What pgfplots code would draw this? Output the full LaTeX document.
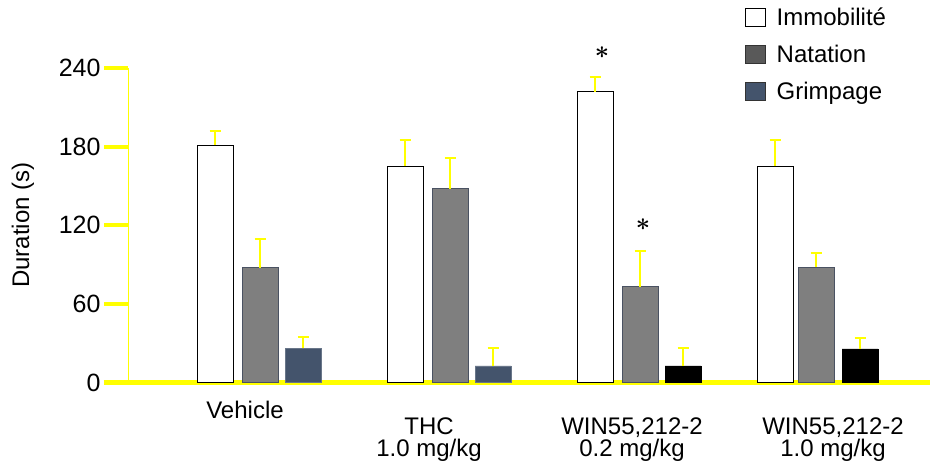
\documentclass[border=0pt]{standalone}
\usepackage{pgfplots}
\pgfplotsset{compat=1.18}
\usepackage{fontspec}
\setmainfont{Liberation Sans}
\definecolor{ylw}{HTML}{FFFF00}
\definecolor{natgray}{HTML}{7F7F7F}
\definecolor{natedge}{HTML}{4A5262}
\definecolor{slate}{HTML}{44546C}

\pgfplotstableread{
x y e
215 181.2 10.7
405 165.2 19.9
595 221.7 11.4
775 165.2 19.9
}\immo
\pgfplotstableread{
x y e
260 87.4 22.1
450 147.7 23.6
640 72.9 27.5
816 88.1 10.7
}\nat
\pgfplotstableread{
x y e
303 26.3 8.4
493 12.6 13.7
}\grimA
\pgfplotstableread{
x y e
683 12.6 13.7
860 25.6 8.4
}\grimB

\begin{document}
\begin{tikzpicture}[x=1pt,y=1pt]
\path[use as bounding box] (0,0) rectangle (934,462);
\begin{axis}[
  at={(128pt,79.5pt)}, anchor=south west,
  scale only axis, width=802pt, height=314.5pt,
  xmin=128, xmax=930, ymin=0, ymax=240,
  clip=false,
  axis x line=bottom, axis y line=left,
  x axis line style={-, ylw, line width=5pt},
  y axis line style={-, ylw, line width=1pt},
  ytick={0,60,120,180,240},
  ytick style={ylw, line width=4pt},
  tick align=outside, major tick length=24pt,
  xtick={429,632,833},
  xtick style={draw=none},
  xticklabels={{THC\\1.0 mg/kg},{WIN55,212-2\\0.2 mg/kg},{WIN55,212-2\\1.0 mg/kg}},
  xticklabel style={align=center, font=\fontsize{24}{22}\selectfont, anchor=north, yshift=-8pt},
  extra x ticks={245},
  extra x tick labels={Vehicle},
  extra x tick style={xticklabel style={yshift=17pt}},
  /pgf/number format/assume math mode=true,
  yticklabel style={font=\fontsize{25}{25}\selectfont},
  ylabel={Duration (s)},
  ylabel style={font=\fontsize{24}{24}\selectfont, at={(axis description cs:-0.131,0.5)}, anchor=center, rotate=0},
  ybar, bar width=36, bar shift=0pt,
  error bars/y dir=plus, error bars/y explicit,
  error bars/error bar style={ylw, line width=1.4pt},
  error bars/error mark options={ylw, line width=1.4pt, mark size=5.5pt, rotate=90},
  legend style={at={(axis description cs:0.769,1.199)}, anchor=north west, draw=none, fill=none,
    font=\fontsize{24}{24}\selectfont, row sep=14pt, inner sep=0pt},
  legend cell align=left,
  legend image code/.code={\draw[#1] (0pt,-9pt) rectangle (20pt,9pt); \path (29pt,0pt);},
]
\addlegendimage{draw=black, fill=white, line width=0.8pt}
\addlegendentry{Immobilité}
\addlegendimage{draw=black!80, fill=black!65, line width=0.8pt}
\addlegendentry{Natation}
\addlegendimage{draw=black!80, fill=slate, line width=0.8pt}
\addlegendentry{Grimpage}
\addplot[forget plot, draw=black, fill=white, line width=1pt] table[x=x,y=y,y error=e]{\immo};
\addplot[forget plot, draw=natedge, fill=natgray, line width=1pt] table[x=x,y=y,y error=e]{\nat};
\addplot[forget plot, draw=slate!80!white, fill=slate, line width=0.8pt] table[x=x,y=y,y error=e]{\grimA};
\addplot[forget plot, draw=black, fill=black, line width=0.8pt] table[x=x,y=y,y error=e]{\grimB};
\draw[ylw, line width=5pt] (axis cs:104,0) -- (axis cs:128,0);
\node[font=\fontsize{44}{44}\selectfont\boldmath] at (axis cs:602,251.5) {$\ast$};
\node[font=\fontsize{44}{44}\selectfont\boldmath] at (axis cs:643,120.2) {$\ast$};
\end{axis}
\end{tikzpicture}
\end{document}
